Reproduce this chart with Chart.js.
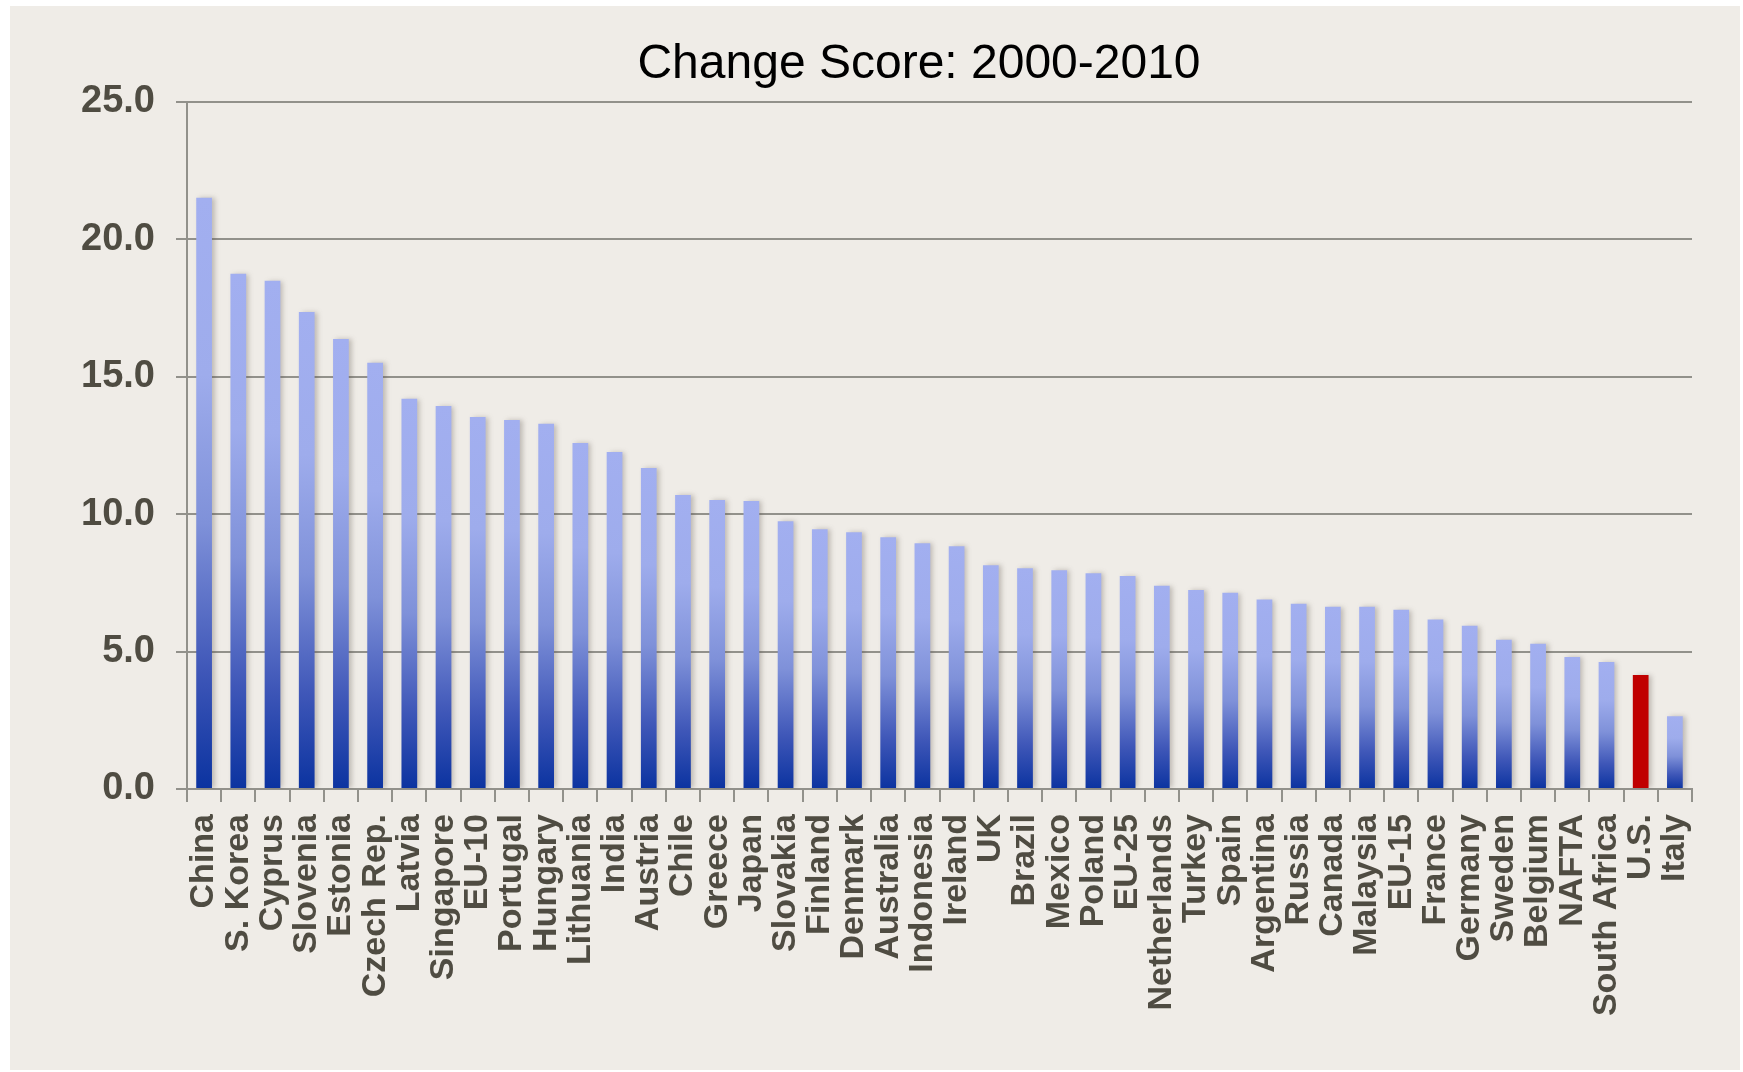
<!DOCTYPE html>
<html><head><meta charset="utf-8">
<script src="https://cdn.jsdelivr.net/npm/chart.js@4.4.0/dist/chart.umd.min.js"></script>
<style>
html,body{margin:0;padding:0;background:#fff;width:1743px;height:1072px;overflow:hidden;}
#wrap{position:absolute;left:10px;top:6px;width:1730px;height:1064px;background:#efece7;}
canvas{display:block}
</style></head><body>
<div id="wrap"><canvas id="c" width="1730" height="1064"></canvas></div>
<script>
const chartTitle = "Change Score: 2000-2010";
const categories = ["China","S. Korea","Cyprus","Slovenia","Estonia","Czech Rep.","Latvia","Singapore","EU-10","Portugal","Hungary","Lithuania","India","Austria","Chile","Greece","Japan","Slovakia","Finland","Denmark","Australia","Indonesia","Ireland","UK","Brazil","Mexico","Poland","EU-25","Netherlands","Turkey","Spain","Argentina","Russia","Canada","Malaysia","EU-15","France","Germany","Sweden","Belgium","NAFTA","South Africa","U.S.","Italy"];
const changeScores = [21.50,18.74,18.48,17.35,16.37,15.50,14.19,13.93,13.53,13.42,13.28,12.58,12.26,11.67,10.69,10.51,10.47,9.74,9.45,9.34,9.16,8.94,8.83,8.14,8.03,7.96,7.85,7.75,7.39,7.24,7.14,6.89,6.74,6.63,6.63,6.52,6.16,5.94,5.43,5.28,4.80,4.62,4.15,2.65];
const highlighted = ["U.S."];
const yTicks = [0,5,10,15,20,25];

const FONT = '"Liberation Sans", Arial, Helvetica, sans-serif';
const LABEL_COLOR = '#4f4c42';
const GRID_COLOR = '#92918b';

const shadowPlugin = {
  id: 'barShadow',
  beforeDatasetsDraw(chart) {
    const c = chart.ctx; c.save();
    c.shadowColor = 'rgba(80,70,60,0.30)'; c.shadowBlur = 5; c.shadowOffsetX = 3; c.shadowOffsetY = 0;
  },
  afterDatasetsDraw(chart) { chart.ctx.restore(); }
};

function barFill(ctx) {
  const chart = ctx.chart;
  if (highlighted.includes(categories[ctx.dataIndex])) return '#c00000';
  if (!chart.chartArea || ctx.raw === undefined) return '#9aa8ea';
  const ys = chart.scales.y;
  const top = ys.getPixelForValue(ctx.raw);
  const bottom = ys.getPixelForValue(0);
  const g = chart.ctx.createLinearGradient(0, top, 0, bottom);
  g.addColorStop(0, '#a2aff0');
  g.addColorStop(0.3, '#9eacec');
  g.addColorStop(0.55, '#7f91d9');
  g.addColorStop(0.8, '#3f57b8');
  g.addColorStop(1, '#0b33a0');
  return g;
}

new Chart(document.getElementById('c'), {
  type: 'bar',
  data: {
    labels: categories,
    datasets: [{
      data: changeScores,
      backgroundColor: barFill,
      borderWidth: 0,
      barPercentage: 0.46,
      categoryPercentage: 1.0
    }]
  },
  plugins: [shadowPlugin],
  options: {
    responsive: false,
    animation: false,
    devicePixelRatio: 1,
    layout: { padding: { left: 136, right: 48, top: 0, bottom: 0 } },
    plugins: {
      legend: { display: false },
      tooltip: { enabled: false },
      title: {
        display: true,
        text: chartTitle,
        color: '#000',
        font: { family: FONT, size: 48, weight: 'normal', lineHeight: 1.2 },
        padding: { top: 30, bottom: 8 }
      }
    },
    scales: {
      x: {
        afterFit(scale) { scale.height = 281; },
        grid: { display: true, drawOnChartArea: false, drawTicks: true, tickLength: 13, color: GRID_COLOR, lineWidth: 2, offset: true },
        border: { display: true, color: GRID_COLOR, width: 2 },
        ticks: {
          autoSkip: false, maxRotation: 90, minRotation: 90, padding: 12,
          color: LABEL_COLOR,
          font: { family: FONT, size: 34, weight: 'bold' }
        }
      },
      y: {
        min: 0, max: 25,
        afterFit(scale) { scale.width = 41; },
        afterBuildTicks(scale) { scale.ticks = yTicks.map(v => ({ value: v })); },
        grid: { color: GRID_COLOR, lineWidth: 2, tickLength: 11, drawTicks: true },
        border: { display: true, color: GRID_COLOR, width: 2 },
        ticks: {
          mirror: true,
          crossAlign: 'far',
          padding: -106,
          color: LABEL_COLOR,
          font: { family: FONT, size: 38, weight: 'bold' },
          callback: v => Number(v).toFixed(1)
        }
      }
    }
  }
});
</script>
</body></html>
